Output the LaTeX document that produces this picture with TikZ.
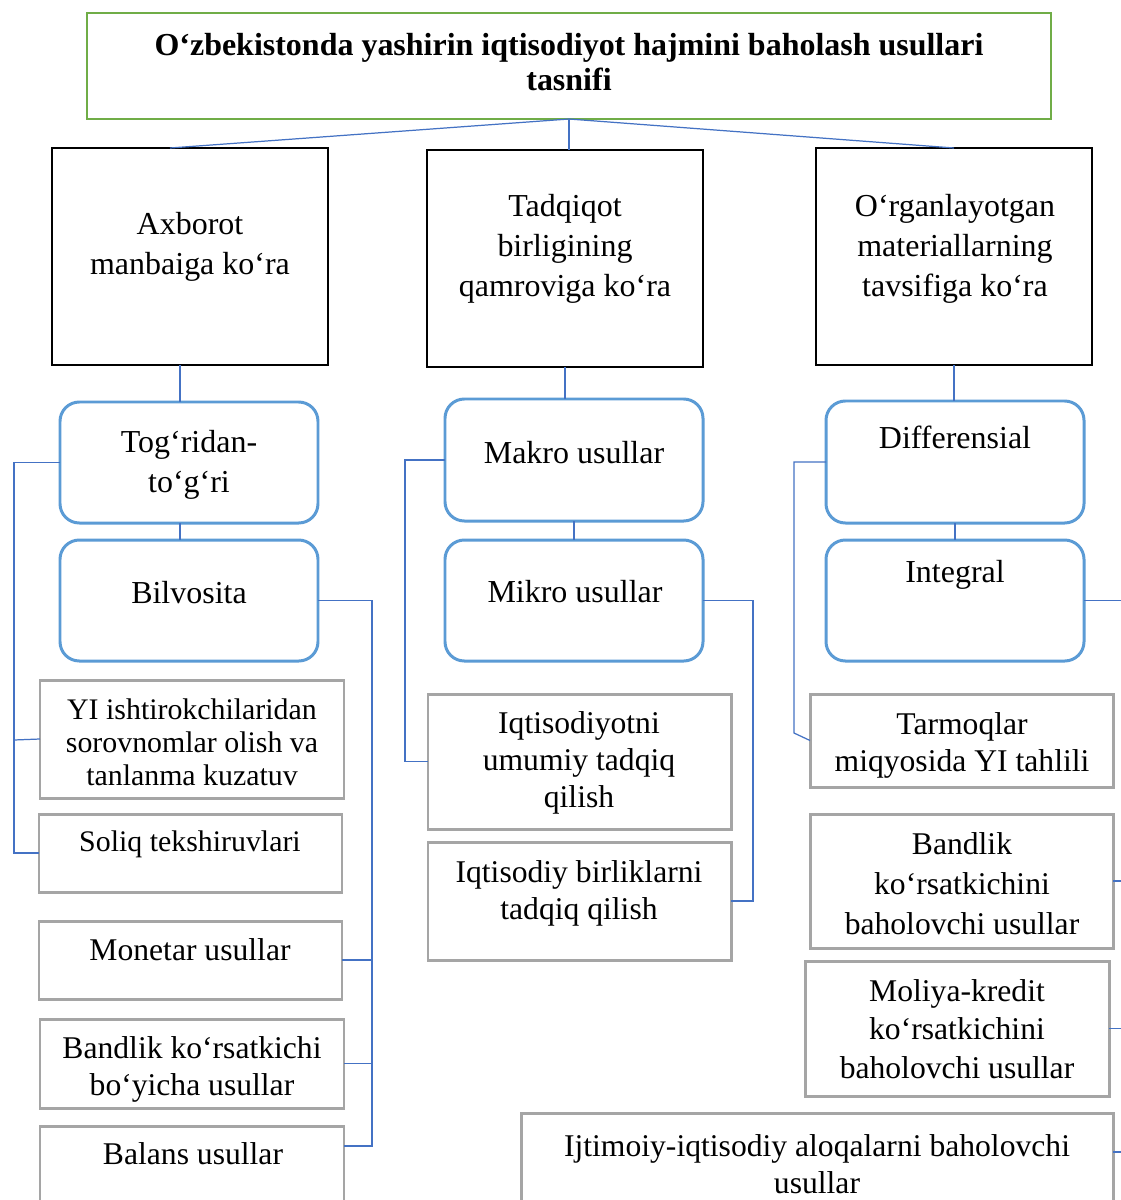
\documentclass[tikz,border=0pt]{standalone}
\usepackage{fontspec}
\setmainfont{Liberation Serif}
\usetikzlibrary{calc}
\definecolor{tgreen}{HTML}{70AD47}
\definecolor{rblue}{HTML}{5B9BD5}
\definecolor{cblue}{HTML}{4472C4}
\definecolor{bgray}{HTML}{A5A5A5}
\newcommand\mkbox[6]{\node[#2, minimum width={(#5-#3)*0.02cm}, minimum height={(#6-#4)*0.02cm}] (#1) at ({(#3+#5)/2},{(#4+#6)/2}) {};}
\begin{document}
\begin{tikzpicture}[x=0.02cm,y=-0.02cm,
 every node/.style={inner sep=0pt, outer sep=0pt},
 titlebox/.style={draw=tgreen, line width=1.4pt},
 catbox/.style={draw=black, line width=1.3pt},
 rbox/.style={draw=rblue, line width=1.7pt, rounded corners=11pt},
 gbox/.style={draw=bgray, line width=1.7pt},
 conn/.style={draw=cblue, line width=0.7pt},
 ttl/.style={font=\fontsize{18.2}{20.4}\selectfont\bfseries, align=center},
 lbl/.style={font=\fontsize{18.2}{22.7}\selectfont, align=center},
 glbl/.style={font=\fontsize{18}{21}\selectfont, align=center}]
\clip (0,0) rectangle (1121,1200);
\fill[white] (0,0) rectangle (1121,1200);

% boxes
\mkbox{title}{titlebox}{87}{13}{1051}{119}
\mkbox{A}{catbox}{52}{148}{328}{365}
\mkbox{B}{catbox}{427}{150}{703}{367}
\mkbox{C}{catbox}{816}{148}{1092}{365}

\mkbox{T}{rbox}{60}{402}{318}{523}
\mkbox{Bv}{rbox}{60}{540}{318}{661}
\mkbox{Mk}{rbox}{445}{399}{703}{521}
\mkbox{Mi}{rbox}{445}{540}{703}{661}
\mkbox{Df}{rbox}{826}{401}{1084}{523}
\mkbox{In}{rbox}{826}{540}{1084}{661}

\mkbox{YI}{gbox}{40}{680}{344}{798}
\mkbox{Sol}{gbox}{39}{814}{342}{892}
\mkbox{Mon}{gbox}{39}{921}{342}{999}
\mkbox{Bk}{gbox}{40}{1019}{344}{1108}
\mkbox{Bal}{gbox}{40}{1126}{344}{1240}
\mkbox{Iq1}{gbox}{428}{694}{731}{829}
\mkbox{Iq2}{gbox}{428}{842}{731}{960}
\mkbox{Tm}{gbox}{810}{694}{1113}{787}
\mkbox{Bd2}{gbox}{810}{814}{1113}{948}
\mkbox{Mol}{gbox}{805}{961}{1109}{1096}
\mkbox{Ij}{gbox}{521}{1113}{1113}{1240}

% texts
\node[ttl] (tTitle) at (569,62) {O‘zbekistonda yashirin iqtisodiyot hajmini baholash usullari\\tasnifi};
\node[lbl] (tA) at (190,247) {Axborot\\manbaiga ko‘ra};
\node[lbl] (tB) at (565,249) {Tadqiqot\\birligining\\qamroviga ko‘ra};
\node[lbl] (tC) at (955,249) {O‘rganlayotgan\\materiallarning\\tavsifiga ko‘ra};
\node[lbl] (tT) at (189,465) {Tog‘ridan-\\to‘g‘ri};
\node[lbl] (tBv) at (189,593) {Bilvosita};
\node[lbl] (tMk) at (574,453) {Makro usullar};
\node[lbl] (tMi) at (575,592) {Mikro usullar};
\node[lbl] (tDf) at (955,437) {Differensial};
\node[lbl] (tIn) at (955,575) {Integral};

\node[glbl, font=\fontsize{17}{18.7}\selectfont] (tYI) at (192,742) {YI ishtirokchilaridan\\sorovnomlar olish va\\tanlanma kuzatuv};
\node[glbl, font=\fontsize{17}{21}\selectfont] (tSol) at (190,844) {Soliq tekshiruvlari};
\node[glbl] (tMon) at (190,950) {Monetar usullar};
\node[glbl] (tBk) at (192,1069) {Bandlik ko‘rsatkichi\\bo‘yicha usullar};
\node[glbl] (tBal) at (193,1154) {Balans usullar};
\node[glbl] (tIq1) at (579,763) {Iqtisodiyotni\\umumiy tadqiq\\qilish};
\node[glbl] (tIq2) at (579,893) {Iqtisodiy birliklarni\\tadqiq qilish};
\node[glbl] (tTm) at (962,745) {Tarmoqlar\\miqyosida YI tahlili};
\node[glbl, font=\fontsize{18}{22.7}\selectfont] (tBd2) at (962,884) {Bandlik\\ko‘rsatkichini\\baholovchi usullar};
\node[glbl, font=\fontsize{18}{22}\selectfont] (tMol) at (957,1029) {Moliya-kredit\\ko‘rsatkichini\\baholovchi usullar};
\node[glbl] (tIj) at (817,1164) {Ijtimoiy-iqtisodiy aloqalarni baholovchi\\usullar};

% connectors
\draw[conn] (title.south) -- ($(A.north)+(-20,0)$);
\draw[conn] (title.south) -- (title.south |- B.north);
\draw[conn] (title.south) -- (C.north);

\draw[conn] ($(A.south)+(-10,0)$) -- ($(T.north)+(-9,0)$);
\draw[conn] ($(T.south)+(-9,0)$) -- ($(Bv.north)+(-9,0)$);
\draw[conn] (B.south) -- (B.south |- Mk.north);
\draw[conn] (Mk.south) -- (Mi.north);
\draw[conn] (C.south) -- (C.south |- Df.north);
\draw[conn] (Df.south) -- (In.north);

\draw[conn] (T.west) -- ++(-46,0) |- (Sol.west);
\draw[conn] (YI.west) -- ++(-26,1);
\coordinate (balc) at ($(Bal.north east)+(0,20)$);
\draw[conn] (Bv.east) -- ++(54,0) |- (balc);
\draw[conn] (Mon.east) -- ++(30,0);
\draw[conn] (Bk.east) -- ++(28,0);

\draw[conn] (Mk.west) -- ++(-40,0) |- (Iq1.west);
\draw[conn] (Mi.east) -- ++(50,0) |- (Iq2.east);

\coordinate (dfbend) at (794,733);
\draw[conn] (Df.west) -- ++(-32,0) -- (dfbend) -- (Tm.west);
\draw[conn] (In.east) -- ++(50,0);
\draw[conn] (Bd2.east) -- ++(20,0);
\draw[conn] (Mol.east) -- ++(20,0);
\coordinate (ijc) at ($(Ij.north east)+(0,39)$);
\draw[conn] (ijc) -- ++(20,0);
\end{tikzpicture}
\end{document}
